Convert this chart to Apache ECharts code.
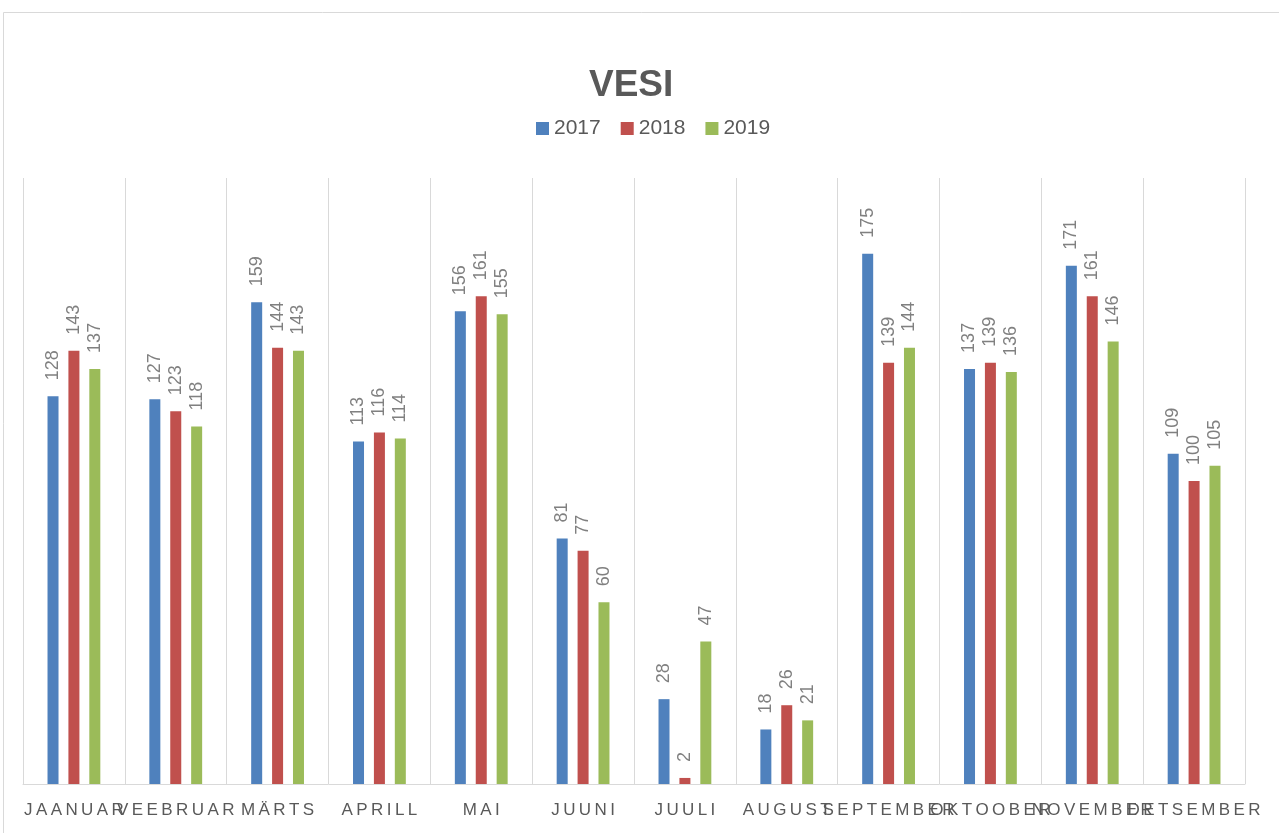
<!DOCTYPE html>
<html style="height: 100%">
   <head>
       <meta charset="utf-8">
   </head>
   <body style="height: 100%; margin: 0">
       <div id="container" style="width: 1279px; height: 833px"></div>
       <script type="text/javascript" src="https://cdn.jsdelivr.net/npm/echarts@6/dist/echarts.min.js"></script>
       <script type="text/javascript">
var months = ['JAANUAR', 'VEEBRUAR', 'MÄRTS', 'APRILL', 'MAI', 'JUUNI', 'JUULI', 'AUGUST', 'SEPTEMBER', 'OKTOOBER', 'NOVEMBER', 'DETSEMBER'];
var data2017 = [128, 127, 159, 113, 156, 81, 28, 18, 175, 137, 171, 109];
var data2018 = [143, 123, 144, 116, 161, 77, 2, 26, 139, 139, 161, 100];
var data2019 = [137, 118, 143, 114, 155, 60, 47, 21, 144, 136, 146, 105];

// spread letters out a bit, like the spaced caps in the original
function spaced(s) {
    return s.split('').join('\u2009');
}

var dom = document.getElementById("container");
var myChart = echarts.init(dom);

var barLabel = {
    show: true,
    position: 'top',
    rotate: 90,
    align: 'left',
    verticalAlign: 'middle',
    distance: 16,
    color: '#808080',
    fontSize: 18,
    fontFamily: 'Liberation Sans'
};

function makeSeries(name, data, color) {
    return {
        name: name,
        type: 'bar',
        data: data,
        barWidth: 11,
        barGap: '90%',
        itemStyle: {color: color},
        label: barLabel
    };
}

var option = {
    backgroundColor: '#fff',
    animation: false,
    textStyle: {fontFamily: 'Liberation Sans'},
    title: {
        text: 'VESI',
        left: 584,
        top: 62,
        textStyle: {
            color: '#595959',
            fontSize: 37,
            fontWeight: 'bold',
            fontFamily: 'Liberation Sans'
        }
    },
    legend: {
        top: 113,
        left: 531,
        itemWidth: 13,
        itemHeight: 13,
        itemGap: 20,
        icon: 'rect',
        textStyle: {color: '#595959', fontSize: 21},
        data: ['2017', '2018', '2019']
    },
    graphic: [{
        type: 'rect',
        shape: {x: 3.5, y: 12.5, width: 1300, height: 840},
        style: {fill: null, stroke: '#d9d9d9', lineWidth: 1},
        silent: true
    }],
    grid: {
        left: 23,
        right: 34,
        top: 178,
        bottom: 49
    },
    xAxis: {
        type: 'category',
        data: months,
        axisTick: {show: false},
        axisLine: {lineStyle: {color: '#d9d9d9', width: 1}},
        splitLine: {show: true, interval: 0, lineStyle: {color: '#d9d9d9', width: 1}},
        axisLabel: {
            interval: 0,
            color: '#595959',
            fontSize: 17,
            margin: 18,
            formatter: spaced
        }
    },
    yAxis: {
        type: 'value',
        min: 0,
        max: 200,
        show: false,
        splitLine: {show: false}
    },
    series: [
        makeSeries('2017', data2017, '#4f81bd'),
        makeSeries('2018', data2018, '#c0504d'),
        makeSeries('2019', data2019, '#9bbb59')
    ]
};

myChart.setOption(option, true);
       </script>
   </body>
</html>
